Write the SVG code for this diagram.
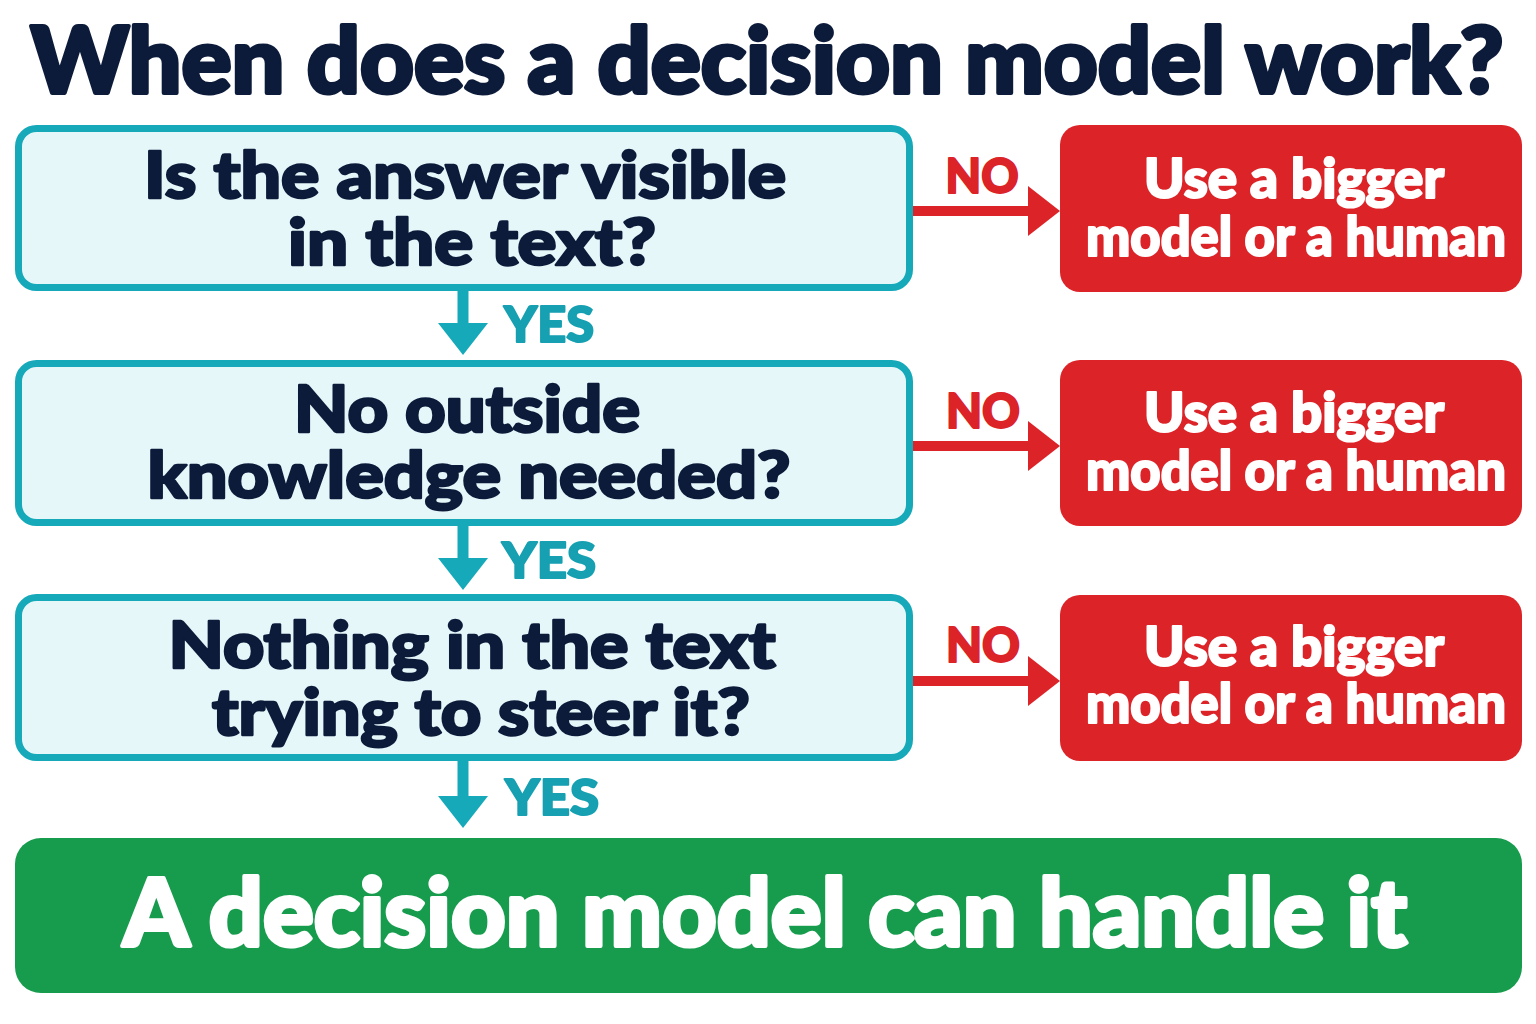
<svg xmlns="http://www.w3.org/2000/svg" width="1536" height="1024" viewBox="0 0 1536 1024">
<defs>
<style>
.t{font-family:Lato,"Noto Sans","Liberation Sans",sans-serif;font-weight:900;text-anchor:middle;paint-order:stroke;stroke-linejoin:round}
.title{fill:#0d1b3a;stroke:#0d1b3a;stroke-width:4;font-size:92px}
.q{fill:#0d1b3a;stroke:#0d1b3a;stroke-width:2.5;font-size:64px}
.q-box{fill:#e6f7fa;stroke:#16a9b9;stroke-width:7}
.r-box{fill:#dc2328}
.r-txt{fill:#ffffff;stroke:#ffffff;stroke-width:2.2;font-size:55px}
.yes{fill:#16a0b2;stroke:#16a0b2;stroke-width:2;font-size:50px}
.no{fill:#dc2328;stroke:#dc2328;stroke-width:2;font-size:48px}
.g-box{fill:#169c4c}
.g-txt{fill:#ffffff;stroke:#ffffff;stroke-width:4;font-size:94px}
.down{stroke:#16a9b9;stroke-width:11;fill:none}
.right{stroke:#dc2328;stroke-width:10;fill:none}
</style>
<marker id="headDown" markerUnits="userSpaceOnUse" markerWidth="34" markerHeight="50" refX="2" refY="25" orient="auto" viewBox="0 0 34 50">
<polygon points="0,0 32,25 0,50" fill="#16a9b9"/>
</marker>
<marker id="headRight" markerUnits="userSpaceOnUse" markerWidth="34" markerHeight="50" refX="2" refY="25" orient="auto" viewBox="0 0 34 50">
<polygon points="0,0 32,25 0,50" fill="#dc2328"/>
</marker>
</defs>
<rect width="1536" height="1024" fill="#ffffff"/>
<text class="t title" x="767" y="93" textLength="1473" lengthAdjust="spacingAndGlyphs">When does a decision model work?</text>

<g id="q1">
<rect class="q-box" x="18.5" y="128.5" width="891" height="159" rx="18"/>
<text class="t q" x="465" y="198" textLength="642" lengthAdjust="spacingAndGlyphs">Is the answer visible</text>
<text class="t q" x="472" y="265" textLength="368" lengthAdjust="spacingAndGlyphs">in the text?</text>
</g>
<g id="q2">
<rect class="q-box" x="18.5" y="363.5" width="891" height="159" rx="18"/>
<text class="t q" x="467" y="432" textLength="346" lengthAdjust="spacingAndGlyphs">No outside</text>
<text class="t q" x="469" y="498" textLength="643" lengthAdjust="spacingAndGlyphs">knowledge needed?</text>
</g>
<g id="q3">
<rect class="q-box" x="18.5" y="597.5" width="891" height="160" rx="18"/>
<text class="t q" x="472" y="668" textLength="607" lengthAdjust="spacingAndGlyphs">Nothing in the text</text>
<text class="t q" x="481" y="735" textLength="538" lengthAdjust="spacingAndGlyphs">trying to steer it?</text>
</g>

<g id="r1">
<rect class="r-box" x="1060" y="125" width="462" height="167" rx="20"/>
<text class="t r-txt" x="1294" y="198" textLength="300" lengthAdjust="spacingAndGlyphs">Use a bigger</text>
<text class="t r-txt" x="1296" y="256" textLength="420" lengthAdjust="spacingAndGlyphs">model or a human</text>
</g>
<g id="r2">
<rect class="r-box" x="1060" y="360" width="462" height="166" rx="20"/>
<text class="t r-txt" x="1294" y="432" textLength="300" lengthAdjust="spacingAndGlyphs">Use a bigger</text>
<text class="t r-txt" x="1296" y="490" textLength="420" lengthAdjust="spacingAndGlyphs">model or a human</text>
</g>
<g id="r3">
<rect class="r-box" x="1060" y="595" width="462" height="166" rx="20"/>
<text class="t r-txt" x="1294" y="666" textLength="300" lengthAdjust="spacingAndGlyphs">Use a bigger</text>
<text class="t r-txt" x="1296" y="723" textLength="420" lengthAdjust="spacingAndGlyphs">model or a human</text>
</g>

<g id="result">
<rect class="g-box" x="15" y="838" width="1507" height="155" rx="26"/>
<text class="t g-txt" x="765" y="946" textLength="1284" lengthAdjust="spacingAndGlyphs">A decision model can handle it</text>
</g>

<g id="connectors">
<line class="down" x1="463" y1="291" x2="463" y2="325" marker-end="url(#headDown)"/>
<line class="down" x1="463" y1="526" x2="463" y2="560" marker-end="url(#headDown)"/>
<line class="down" x1="463" y1="761" x2="463" y2="798" marker-end="url(#headDown)"/>
<line class="right" x1="913" y1="211" x2="1030" y2="211" marker-end="url(#headRight)"/>
<line class="right" x1="913" y1="446" x2="1030" y2="446" marker-end="url(#headRight)"/>
<line class="right" x1="913" y1="681" x2="1030" y2="681" marker-end="url(#headRight)"/>
<text class="t yes" x="549" y="342" textLength="90" lengthAdjust="spacingAndGlyphs">YES</text>
<text class="t yes" x="549" y="578" textLength="94" lengthAdjust="spacingAndGlyphs">YES</text>
<text class="t yes" x="552" y="815" textLength="94" lengthAdjust="spacingAndGlyphs">YES</text>
<text class="t no" x="982" y="193" textLength="73" lengthAdjust="spacingAndGlyphs">NO</text>
<text class="t no" x="983" y="428" textLength="74" lengthAdjust="spacingAndGlyphs">NO</text>
<text class="t no" x="983" y="662" textLength="74" lengthAdjust="spacingAndGlyphs">NO</text>
</g>
</svg>
